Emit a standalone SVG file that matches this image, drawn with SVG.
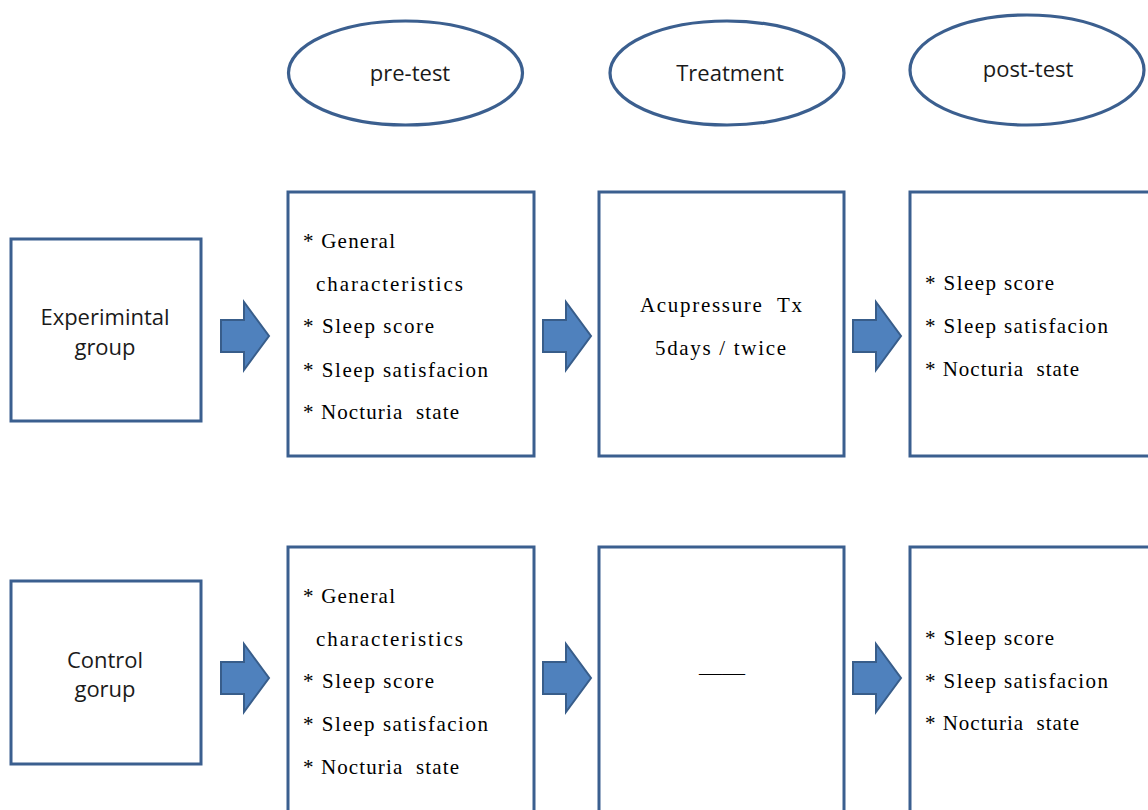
<svg xmlns="http://www.w3.org/2000/svg" width="1148" height="810" viewBox="0 0 1148 810">
<style>
.box{fill:#fff;stroke:#3b5f8f;stroke-width:3}
.ell{fill:#fff;stroke:#3b5f8f;stroke-width:3.2}
.sans{font-family:"Open Sans","Noto Sans",sans-serif;font-size:22px;fill:#1a1a1a;text-anchor:middle}
.ser{font-family:"Liberation Serif","DejaVu Serif",serif;font-size:21px;fill:#000;white-space:pre}
.arr{fill:#4f81bd;stroke:#385d8a;stroke-width:2;stroke-linejoin:miter}
</style>
<defs>
<path id="blk" d="M0,-16 L23,-16 L23,-34 L48,0 L23,34 L23,16 L0,16 Z"/>
</defs>
<rect width="1148" height="810" fill="#fff"/>
<g id="h-pre"><ellipse class="ell" cx="405.5" cy="73" rx="117" ry="52"/><text class="sans" x="410" y="81">pre-test</text></g>
<g id="h-treat"><ellipse class="ell" cx="727" cy="73" rx="117" ry="52"/><text class="sans" x="730" y="81">Treatment</text></g>
<g id="h-post"><ellipse class="ell" cx="1027" cy="70" rx="117" ry="55"/><text class="sans" x="1028" y="77">post-test</text></g>

<g id="exp-group"><rect class="box" x="11" y="239" width="190" height="182"/><text class="sans" x="105" y="325">Experimintal</text><text class="sans" x="105" y="355">group</text></g>
<g id="ctl-group"><rect class="box" x="11" y="581" width="190" height="183"/><text class="sans" x="105" y="668">Control</text><text class="sans" x="105" y="697">gorup</text></g>

<g id="exp-pre"><rect class="box" x="288" y="192" width="246" height="264"/>
<text class="ser" x="303" y="248" textLength="92" lengthAdjust="spacing">* General</text>
<text class="ser" x="316" y="291" textLength="147" lengthAdjust="spacing">characteristics</text>
<text class="ser" x="303" y="333" textLength="131" lengthAdjust="spacing">* Sleep score</text>
<text class="ser" x="303" y="377" textLength="185" lengthAdjust="spacing">* Sleep satisfacion</text>
<text class="ser" x="303" y="419" textLength="156" lengthAdjust="spacing">* Nocturia  state</text>
</g>
<g id="exp-treat"><rect class="box" x="599" y="192" width="245" height="264"/>
<text class="ser" x="640" y="312" textLength="162" lengthAdjust="spacing">Acupressure  Tx</text>
<text class="ser" x="655" y="355" textLength="131" lengthAdjust="spacing">5days / twice</text>
</g>
<g id="exp-post"><rect class="box" x="910" y="192" width="250" height="264"/>
<text class="ser" x="925" y="290" textLength="129" lengthAdjust="spacing">* Sleep score</text>
<text class="ser" x="925" y="333" textLength="183" lengthAdjust="spacing">* Sleep satisfacion</text>
<text class="ser" x="925" y="376" textLength="154" lengthAdjust="spacing">* Nocturia  state</text>
</g>

<g id="ctl-pre"><rect class="box" x="288" y="547" width="246" height="275"/>
<text class="ser" x="303" y="603" textLength="92" lengthAdjust="spacing">* General</text>
<text class="ser" x="316" y="646" textLength="147" lengthAdjust="spacing">characteristics</text>
<text class="ser" x="303" y="688" textLength="131" lengthAdjust="spacing">* Sleep score</text>
<text class="ser" x="303" y="731" textLength="185" lengthAdjust="spacing">* Sleep satisfacion</text>
<text class="ser" x="303" y="774" textLength="156" lengthAdjust="spacing">* Nocturia  state</text>
</g>
<g id="ctl-treat"><rect class="box" x="599" y="547" width="245" height="275"/>
<text class="ser" x="699" y="680" textLength="46" lengthAdjust="spacingAndGlyphs">——</text>
</g>
<g id="ctl-post"><rect class="box" x="910" y="547" width="250" height="275"/>
<text class="ser" x="925" y="645" textLength="129" lengthAdjust="spacing">* Sleep score</text>
<text class="ser" x="925" y="688" textLength="183" lengthAdjust="spacing">* Sleep satisfacion</text>
<text class="ser" x="925" y="730" textLength="154" lengthAdjust="spacing">* Nocturia  state</text>
</g>

<g id="connectors">
<use href="#blk" class="arr" transform="translate(221,336)"/>
<use href="#blk" class="arr" transform="translate(543,336)"/>
<use href="#blk" class="arr" transform="translate(853,336)"/>
<use href="#blk" class="arr" transform="translate(221,678)"/>
<use href="#blk" class="arr" transform="translate(543,678)"/>
<use href="#blk" class="arr" transform="translate(853,678)"/>
</g>
</svg>
